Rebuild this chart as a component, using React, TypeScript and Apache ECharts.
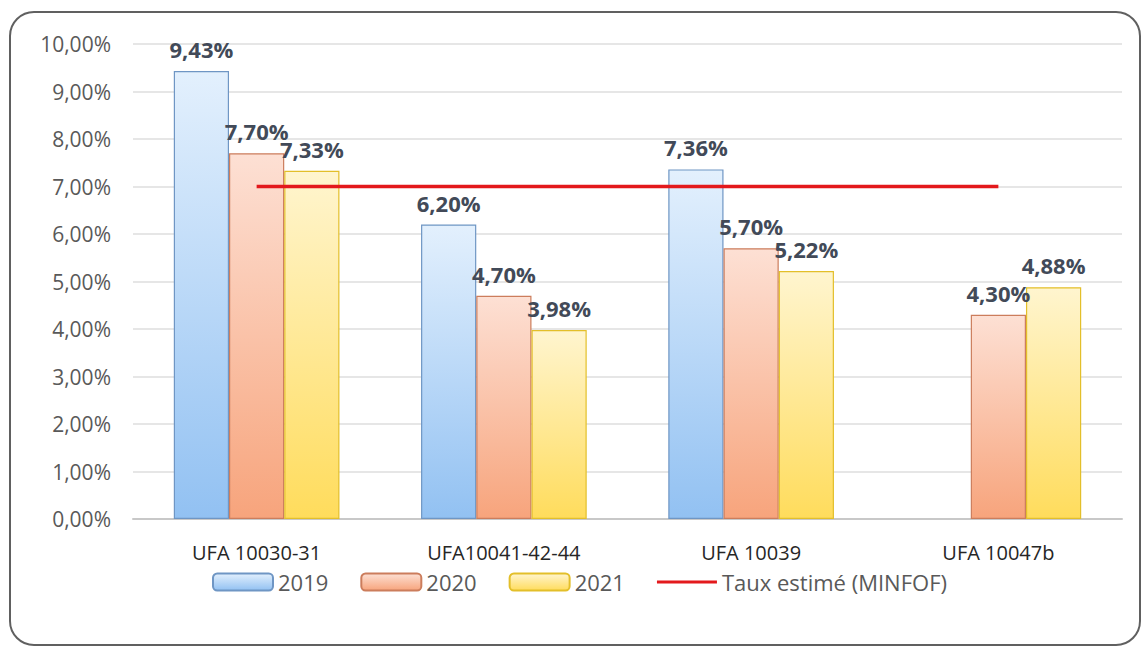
import React, { useEffect, useRef } from "react";
import * as echarts from "echarts";

const categories = ["UFA 10030-31", "UFA10041-42-44", "UFA 10039", "UFA 10047b"];
const values2019 = [9.43, 6.2, 7.36, null];
const values2020 = [7.7, 4.7, 5.7, 4.3];
const values2021 = [7.33, 3.98, 5.22, 4.88];
const tauxEstime = [7, 7, 7, 7];
const yTicks = [0, 1, 2, 3, 4, 5, 6, 7, 8, 9, 10];

const fmt = (v: number) => v.toFixed(2).replace(".", ",") + "%";

const grad = (top: string, bottom: string) =>
  new echarts.graphic.LinearGradient(0, 0, 0, 1, [
    { offset: 0, color: top },
    { offset: 1, color: bottom },
  ]);

const FONT = "'Open Sans', 'Noto Sans', sans-serif";
const LINE_ICON = "path://M0,0 M0,7 L60,7 L60,10 L0,10 Z M60,17";

export default function App() {
  const ref = useRef<HTMLDivElement>(null);
  useEffect(() => {
    document.body.style.margin = "0";
    const chart = echarts.init(ref.current!, null, { renderer: "svg" });
    const label = {
      show: true,
      position: "top" as const,
      distance: 11,
      fontFamily: FONT,
      fontSize: 22,
      fontWeight: "bold" as const,
      color: "#424a58",
      formatter: (p: any) => fmt(p.value),
    };
    const mkBar = (name: string, data: any[], top: string, bottom: string, border: string) => ({
      name,
      type: "bar",
      data,
      barGap: "0%",
      barCategoryGap: "33%",
      itemStyle: { color: grad(top, bottom), borderColor: border, borderWidth: 1.2 },
      label,
    });
    chart.setOption({
      animation: false,
      backgroundColor: "#ffffff",
      graphic: [
        {
          type: "rect",
          shape: { x: 10, y: 12, width: 1130, height: 633, r: 24 },
          style: { fill: "none", stroke: "#606060", lineWidth: 2 },
          silent: true,
        },
      ],
      grid: { left: 133, right: 19, top: 44, bottom: 129 },
      legend: {
        left: 207,
        top: 566,
        itemWidth: 60,
        itemHeight: 17,
        itemGap: 32,
        textStyle: { fontFamily: FONT, fontSize: 22, color: "#595959" },
        data: ["2019", "2020", "2021", { name: "Taux estimé (MINFOF)", icon: LINE_ICON }],
      },
      xAxis: {
        type: "category",
        data: categories,
        axisTick: { show: false },
        axisLine: { lineStyle: { color: "#c8c8c8", width: 2 } },
        axisLabel: { fontFamily: FONT, fontSize: 20, color: "#262626", margin: 23 },
      },
      yAxis: {
        type: "value",
        min: yTicks[0],
        max: yTicks[yTicks.length - 1],
        interval: 1,
        axisLabel: { fontFamily: FONT, fontSize: 21, color: "#595959", margin: 22, formatter: (v: number) => fmt(v) },
        splitLine: { lineStyle: { color: "#dedede", width: 1.5 } },
        axisLine: { show: false },
        axisTick: { show: false },
      },
      series: [
        mkBar("2019", values2019, "#e3f0fd", "#92c1f2", "#6f96c4"),
        mkBar("2020", values2020, "#fde0d4", "#f7a47c", "#cc7d5c"),
        mkBar("2021", values2021, "#fff5cf", "#ffdc5c", "#e3bf2a"),
        {
          name: "Taux estimé (MINFOF)",
          type: "line",
          data: tauxEstime,
          symbol: "none",
          lineStyle: { color: "#e3191c", width: 3.5 },
          itemStyle: { color: "#e3191c" },
          z: 5,
        },
      ],
    });
    return () => chart.dispose();
  }, []);
  return <div ref={ref} style={{ width: 1141, height: 648 }} />;
}
